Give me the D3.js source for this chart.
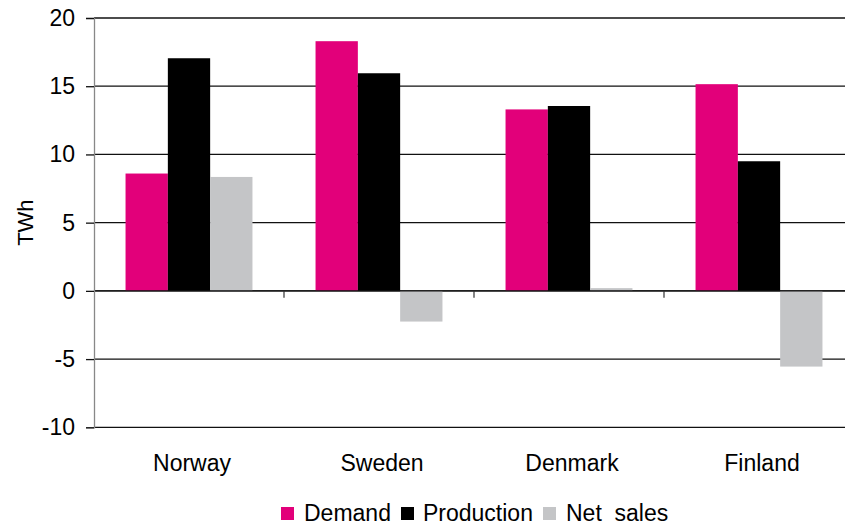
<!DOCTYPE html>
<html>
<head>
<meta charset="utf-8">
<script src="https://cdn.jsdelivr.net/npm/d3@7"></script>
<style>
  html, body { margin: 0; padding: 0; background: #fff; }
  svg { display: block; }
  text { font-family: "Liberation Sans", Arial, Helvetica, sans-serif; fill: #000; }
</style>
</head>
<body>
<svg id="chart" width="845" height="526"></svg>
<script>
// Nordic electricity balance, TWh
const countries = ["Norway", "Sweden", "Denmark", "Finland"];
const seriesNames = ["Demand", "Production", "Net  sales"];
const demand = [8.6, 18.3, 13.3, 15.15];
const production = [17.05, 15.95, 13.55, 9.5];
const netSales = [8.35, -2.25, 0.2, -5.55];
const yTicks = [-10, -5, 0, 5, 10, 15, 20];
const colors = ["#E2007A", "#000000", "#C4C5C7"];

const seriesValues = [demand, production, netSales];

const svg = d3.select("#chart");
const W = 845, H = 526;
const plot = { left: 94, right: 854, top: 18, bottom: 427.3 };

const y = d3.scaleLinear().domain([-10, 20]).range([plot.bottom, plot.top]);
const x = d3.scaleBand().domain(countries).range([plot.left, plot.right]).paddingInner(0).paddingOuter(0);
const xs = d3.scaleBand().domain(seriesNames)
  .range([x.bandwidth() * 0.166, x.bandwidth() * 0.834]).paddingInner(0);

// horizontal gridlines
svg.append("g")
  .selectAll("line")
  .data(yTicks)
  .join("line")
  .attr("x1", plot.left).attr("x2", W)
  .attr("y1", d => y(d)).attr("y2", d => y(d))
  .attr("stroke", "#111").attr("stroke-width", 1.3);

// bars
const groups = svg.append("g")
  .selectAll("g")
  .data(countries)
  .join("g")
  .attr("transform", d => `translate(${x(d)},0)`);

groups.selectAll("rect")
  .data((c, i) => seriesNames.map((s, k) => ({ s, k, v: seriesValues[k][i] })))
  .join("rect")
  .attr("x", d => xs(d.s))
  .attr("width", xs.bandwidth())
  .attr("y", d => y(Math.max(0, d.v)))
  .attr("height", d => Math.abs(y(d.v) - y(0)))
  .attr("fill", d => colors[d.k]);

// zero baseline and category tick marks
svg.append("line")
  .attr("x1", plot.left).attr("x2", W)
  .attr("y1", y(0)).attr("y2", y(0))
  .attr("stroke", "#111").attr("stroke-width", 1.3);

svg.append("g")
  .selectAll("line")
  .data(countries.slice(1))
  .join("line")
  .attr("x1", d => x(d)).attr("x2", d => x(d))
  .attr("y1", y(0)).attr("y2", y(0) + 7)
  .attr("stroke", "#333").attr("stroke-width", 1.2);

// y axis (plain hyphen for negatives)
const yAxis = d3.axisLeft(y).tickValues(yTicks).tickSize(8).tickPadding(11)
  .tickFormat(d => String(d));
const ya = svg.append("g").attr("transform", `translate(${plot.left},0)`).call(yAxis);
ya.select(".domain").attr("stroke", "#888").attr("stroke-width", 1.3);
ya.selectAll(".tick line").attr("stroke", "#111").attr("stroke-width", 1.3);
ya.selectAll(".tick text")
  .attr("font-size", 23)
  .style("font-family", '"Liberation Sans", Arial, sans-serif')
  .attr("fill", "#000");

svg.append("text")
  .attr("transform", `translate(33,${(plot.top + plot.bottom) / 2}) rotate(-90)`)
  .attr("text-anchor", "middle")
  .attr("font-size", 22)
  .text("TWh");

// category labels
svg.append("g")
  .selectAll("text")
  .data(countries)
  .join("text")
  .attr("x", d => x(d) + x.bandwidth() / 2 + 3)
  .attr("y", 471)
  .attr("text-anchor", "middle")
  .attr("font-size", 23)
  .text(d => d);

// legend
const legendItems = [
  { name: seriesNames[0], color: colors[0], x: 281, tx: 304 },
  { name: seriesNames[1], color: colors[1], x: 401, tx: 423 },
  { name: seriesNames[2], color: colors[2], x: 543, tx: 566 }
];
const lg = svg.append("g");
lg.selectAll("rect")
  .data(legendItems)
  .join("rect")
  .attr("x", d => d.x).attr("y", 507)
  .attr("width", 13).attr("height", 13)
  .attr("fill", d => d.color);
lg.selectAll("text")
  .data(legendItems)
  .join("text")
  .attr("x", d => d.tx)
  .attr("y", 521)
  .attr("font-size", 23)
  .style("white-space", "pre")
  .attr("xml:space", "preserve")
  .text(d => d.name);
</script>
</body>
</html>
